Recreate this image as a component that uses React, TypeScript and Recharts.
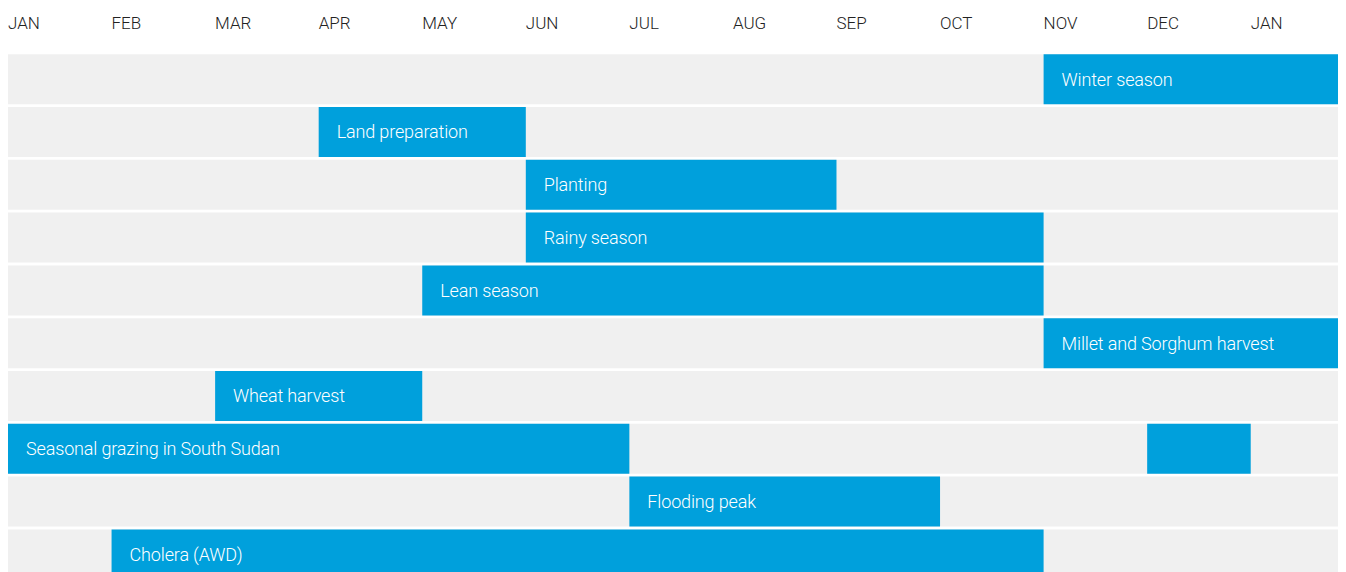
import { BarChart, Bar, XAxis, YAxis, LabelList } from "recharts";

// month start positions (0 = start of January)
const monthLabels = ["JAN", "FEB", "MAR", "APR", "MAY", "JUN", "JUL", "AUG", "SEP", "OCT", "NOV", "DEC", "JAN"];
const monthTicks = [0, 1, 2, 3, 4, 5, 6, 7, 8, 9, 10, 11, 12];
const yearEnd = 12.92;

const activities = [
  "Winter season",
  "Land preparation",
  "Planting",
  "Rainy season",
  "Lean season",
  "Millet and Sorghum harvest",
  "Wheat harvest",
  "Seasonal grazing in South Sudan",
  "Flooding peak",
  "Cholera (AWD)",
];

// main period of each activity [start, end]
const mainPeriods: [number, number][] = [
  [10, yearEnd],
  [3, 5],
  [5, 8],
  [5, 10],
  [4, 10],
  [10, yearEnd],
  [2, 4],
  [0, 6],
  [6, 9],
  [1, 10],
];

// second period, only seasonal grazing has one
const extraPeriods: ([number, number] | null)[] = [null, null, null, null, null, null, null, [11, 12], null, null];

const data = activities.map((name, i) => ({
  name,
  main: mainPeriods[i],
  extra: extraPeriods[i],
}));

const BLUE = "#00a0dc";
const GREY = "#f0f0f0";

// no scrollbar, the last row is cut by the window like in the original
if (typeof document !== "undefined") {
  document.documentElement.style.overflow = "hidden";
  document.body.style.overflow = "hidden";
}

const MonthTick = (props: any) => {
  const { x, payload, index } = props;
  return (
    <text x={x} y={15} dy="0.35em" textAnchor="start" fill="#222" fontSize={17} fontFamily="Roboto" fontWeight={300}>
      {monthLabels[index] ?? payload.value}
    </text>
  );
};

const BarLabel = (props: any) => {
  const { x, y, height, value } = props;
  return (
    <text x={x + 18} y={y + height / 2} dy="0.35em" fill="#fff" fontSize={18} fontFamily="Roboto" fontWeight={300} letterSpacing={-0.15}>
      {value}
    </text>
  );
};

export default function App() {
  return (
    <BarChart
      width={1338}
      height={573}
      data={data}
      layout="vertical"
      margin={{ top: 4, right: 0, bottom: 0, left: 0 }}
      barCategoryGap={1.2}
    >
      <XAxis
        type="number"
        orientation="top"
        domain={[0, yearEnd]}
        ticks={monthTicks}
        allowDataOverflow
        height={41}
        axisLine={false}
        tickLine={false}
        tick={<MonthTick />}
        interval={0}
      />
      <YAxis yAxisId="a" type="category" dataKey="name" hide />
      <YAxis yAxisId="b" type="category" dataKey="name" hide />
      <Bar yAxisId="a" dataKey="main" fill={BLUE} background={{ fill: GREY }} isAnimationActive={false}>
        <LabelList dataKey="name" content={<BarLabel />} />
      </Bar>
      <Bar yAxisId="b" dataKey="extra" fill={BLUE} isAnimationActive={false} />
    </BarChart>
  );
}
